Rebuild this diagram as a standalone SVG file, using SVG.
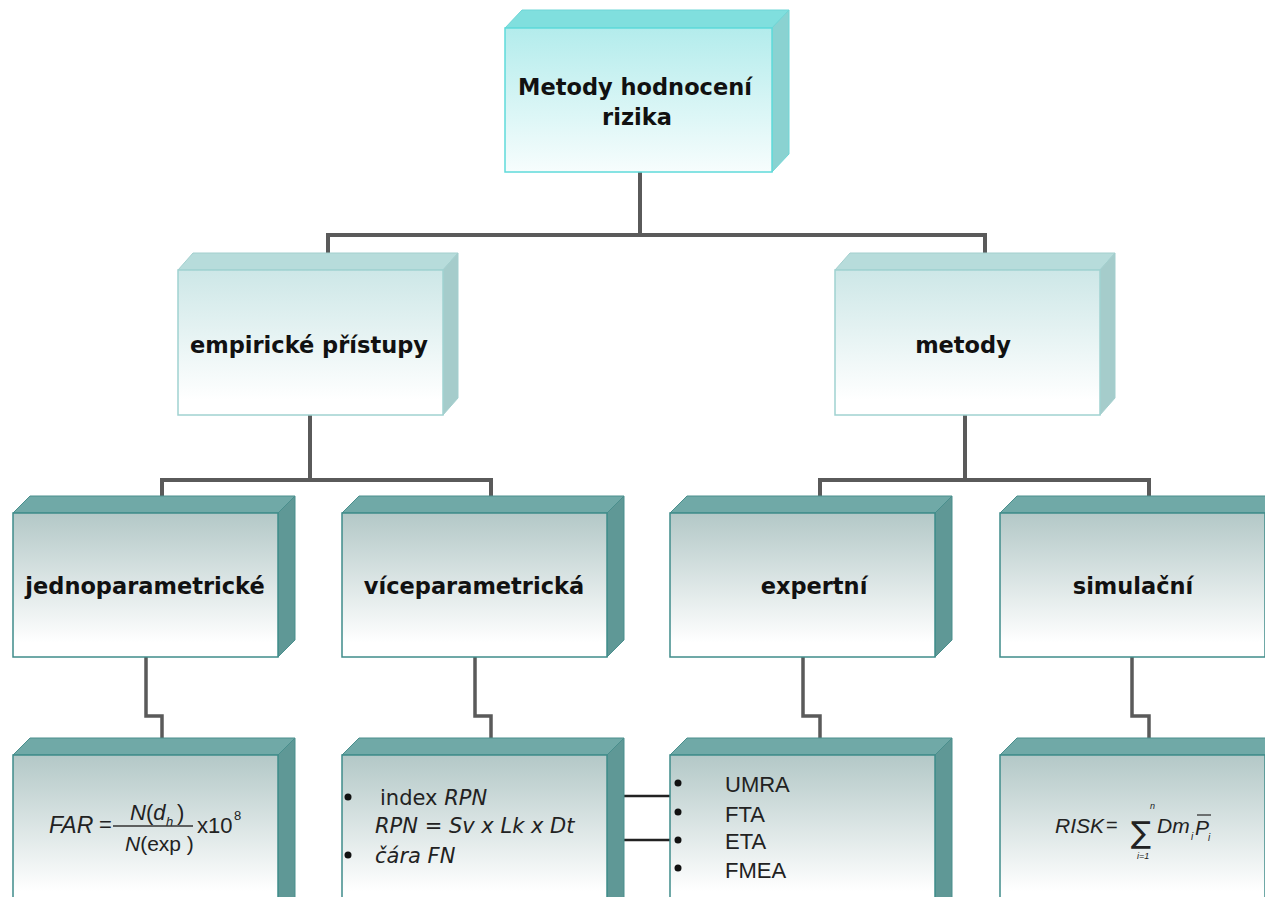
<svg xmlns="http://www.w3.org/2000/svg" width="1265" height="897" viewBox="0 0 1265 897">
<defs>
<linearGradient id="gTop" x1="0" y1="0" x2="0" y2="1"><stop offset="0" stop-color="#b3ecec"/><stop offset="1" stop-color="#f7fdfd"/></linearGradient>
<linearGradient id="gL2" x1="0" y1="0" x2="0" y2="1"><stop offset="0" stop-color="#cde7e7"/><stop offset="0.9" stop-color="#ffffff"/></linearGradient>
<linearGradient id="gL3" x1="0" y1="0" x2="0" y2="1"><stop offset="0" stop-color="#b3c8c7"/><stop offset="0.9" stop-color="#ffffff"/></linearGradient>
<linearGradient id="gL4" x1="0" y1="0" x2="0" y2="1"><stop offset="0" stop-color="#b3c8c7"/><stop offset="0.85" stop-color="#ffffff"/></linearGradient>
</defs>
<style>
.t1top{fill:#80dfde;stroke:#6fd6d6;stroke-width:1}
.t1side{fill:#8ad2d1;stroke:#6fd6d6;stroke-width:1}
.t1front{fill:url(#gTop);stroke:#5fdada;stroke-width:1.5}
.t2top{fill:#b7dcdb;stroke:#a3cfce;stroke-width:1}
.t2side{fill:#a5cccb;stroke:#a3cfce;stroke-width:1}
.t2front{fill:url(#gL2);stroke:#a0d2d1;stroke-width:1.5}
.t3top{fill:#70a9a7;stroke:#4a8f8d;stroke-width:1}
.t3side{fill:#5f9896;stroke:#4a8f8d;stroke-width:1}
.t3front{fill:url(#gL3);stroke:#3f8c8a;stroke-width:1.5}
.t4front{fill:url(#gL4);stroke:#3f8c8a;stroke-width:1.5}
.head{font-family:"DejaVu Sans",Verdana,sans-serif;font-weight:bold;font-size:22.5px;fill:#111;text-anchor:middle}
.list{font-family:"DejaVu Sans",Verdana,sans-serif;font-size:21px;fill:#222}
.alist{font-family:"Liberation Sans",Arial,sans-serif;font-size:22px;fill:#222}
.math{font-family:"Liberation Sans",Arial,sans-serif;fill:#222}
.conn{fill:none;stroke:#5a5a5a;stroke-width:4;stroke-linejoin:miter}
.conn2{fill:none;stroke:#5a5a5a;stroke-width:3.5}
.side{fill:none;stroke:#222;stroke-width:2.5}
</style>

<g id="connectors">
<path class="conn" d="M328,254 V235 H985 V254 M640,172 V235"/>
<path class="conn" d="M162,497 V480 H491 V497 M310,415 V480"/>
<path class="conn" d="M820,497 V480 H1149 V497 M965,415 V480"/>
<path class="conn2" d="M146,657 V716 H162 V738"/>
<path class="conn2" d="M475,657 V716 H491 V738"/>
<path class="conn2" d="M803,657 V716 H820 V738"/>
<path class="conn2" d="M1132,657 V716 H1149 V738"/>
<path class="side" d="M614,796 H672 M614,840 H672"/>
</g>

<g id="node-root">
<polygon class="t1top" points="505,28 522,10 789,10 772,28"/>
<polygon class="t1side" points="772,28 789,10 789,154 772,172"/>
<rect class="t1front" x="505" y="28" width="267" height="144"/>
<text class="head" x="635" y="95">Metody hodnocení</text>
<text class="head" x="637" y="125">rizika</text>
</g>

<g id="node-empiricke">
<polygon class="t2top" points="178,270 193,253 458,253 443,270"/>
<polygon class="t2side" points="443,270 458,253 458,398 443,415"/>
<rect class="t2front" x="178" y="270" width="265" height="145"/>
<text class="head" x="309" y="353">empirické přístupy</text>
</g>

<g id="node-metody">
<polygon class="t2top" points="835,270 850,253 1115,253 1100,270"/>
<polygon class="t2side" points="1100,270 1115,253 1115,398 1100,415"/>
<rect class="t2front" x="835" y="270" width="265" height="145"/>
<text class="head" x="963" y="353">metody</text>
</g>

<g id="node-jedno">
<polygon class="t3top" points="13,513 30,496 295,496 278,513"/>
<polygon class="t3side" points="278,513 295,496 295,640 278,657"/>
<rect class="t3front" x="13" y="513" width="265" height="144"/>
<text class="head" x="145" y="594">jednoparametrické</text>
</g>

<g id="node-vice">
<polygon class="t3top" points="342,513 359,496 624,496 607,513"/>
<polygon class="t3side" points="607,513 624,496 624,640 607,657"/>
<rect class="t3front" x="342" y="513" width="265" height="144"/>
<text class="head" x="474" y="594">víceparametrická</text>
</g>

<g id="node-expertni">
<polygon class="t3top" points="670,513 687,496 952,496 935,513"/>
<polygon class="t3side" points="935,513 952,496 952,640 935,657"/>
<rect class="t3front" x="670" y="513" width="265" height="144"/>
<text class="head" x="814" y="594">expertní</text>
</g>

<g id="node-simulacni">
<polygon class="t3top" points="1000,513 1017,496 1282,496 1265,513"/>
<polygon class="t3side" points="1265,513 1282,496 1282,640 1265,657"/>
<rect class="t3front" x="1000" y="513" width="265" height="144"/>
<text class="head" x="1133" y="594">simulační</text>
</g>

<g id="node-far">
<polygon class="t3top" points="13,755 30,738 295,738 278,755"/>
<polygon class="t3side" points="278,755 295,738 295,900 278,917"/>
<rect class="t4front" x="13" y="755" width="265" height="160"/>
<text class="math" font-size="23" font-style="italic" x="49" y="833">FAR</text>
<text class="math" font-size="22" x="99" y="832">=</text>
<text class="math" font-size="22" x="130" y="820"><tspan font-style="italic">N</tspan>(<tspan font-style="italic">d</tspan></text>
<text class="math" font-size="13" font-style="italic" x="166" y="826">h</text>
<text class="math" font-size="22" x="177" y="820">)</text>
<line x1="113" y1="826" x2="193" y2="826" stroke="#333" stroke-width="1.3"/>
<text class="math" font-size="21" x="125" y="851"><tspan font-style="italic">N</tspan>(exp )</text>
<text class="math" font-size="22" x="197" y="833">x10</text>
<text class="math" font-size="13" x="234" y="820">8</text>
</g>

<g id="node-rpn">
<polygon class="t3top" points="342,755 359,738 624,738 607,755"/>
<polygon class="t3side" points="607,755 624,738 624,900 607,917"/>
<rect class="t4front" x="342" y="755" width="265" height="160"/>
<circle cx="348" cy="797" r="3.5" fill="#111"/>
<circle cx="348" cy="855" r="3.5" fill="#111"/>
<text class="list" x="380" y="805">index <tspan font-style="italic">RPN</tspan></text>
<text class="list" font-style="italic" x="375" y="833">RPN = Sv x Lk x Dt</text>
<text class="list" font-style="italic" x="375" y="863">čára FN</text>
</g>

<g id="node-methods">
<polygon class="t3top" points="670,755 687,738 952,738 935,755"/>
<polygon class="t3side" points="935,755 952,738 952,900 935,917"/>
<rect class="t4front" x="670" y="755" width="265" height="160"/>
<circle cx="678" cy="783" r="3.5" fill="#111"/>
<circle cx="678" cy="812" r="3.5" fill="#111"/>
<circle cx="678" cy="840" r="3.5" fill="#111"/>
<circle cx="678" cy="868" r="3.5" fill="#111"/>
<text class="alist" x="725" y="792">UMRA</text>
<text class="alist" x="725" y="822">FTA</text>
<text class="alist" x="725" y="849">ETA</text>
<text class="alist" x="725" y="878">FMEA</text>
</g>

<g id="node-risk">
<polygon class="t3top" points="1000,755 1017,738 1282,738 1265,755"/>
<rect class="t4front" x="1000" y="755" width="265" height="160"/>
<text class="math" font-size="21" font-style="italic" x="1055" y="833">RISK</text>
<text class="math" font-size="20" x="1106" y="832">=</text>
<text font-family="DejaVu Sans,sans-serif" font-size="30" fill="#222" x="1131" y="843">∑</text>
<text class="math" font-size="9" font-style="italic" x="1150" y="809">n</text>
<text class="math" font-size="9" font-style="italic" x="1137" y="859">i=1</text>
<text class="math" font-size="21" font-style="italic" x="1157" y="833">Dm</text>
<text class="math" font-size="10" font-style="italic" x="1191" y="840">i</text>
<text class="math" font-size="21" font-style="italic" x="1195" y="835">P</text>
<line x1="1197" y1="815" x2="1211" y2="815" stroke="#333" stroke-width="1.3"/>
<text class="math" font-size="10" font-style="italic" x="1208" y="841">i</text>
</g>
</svg>
